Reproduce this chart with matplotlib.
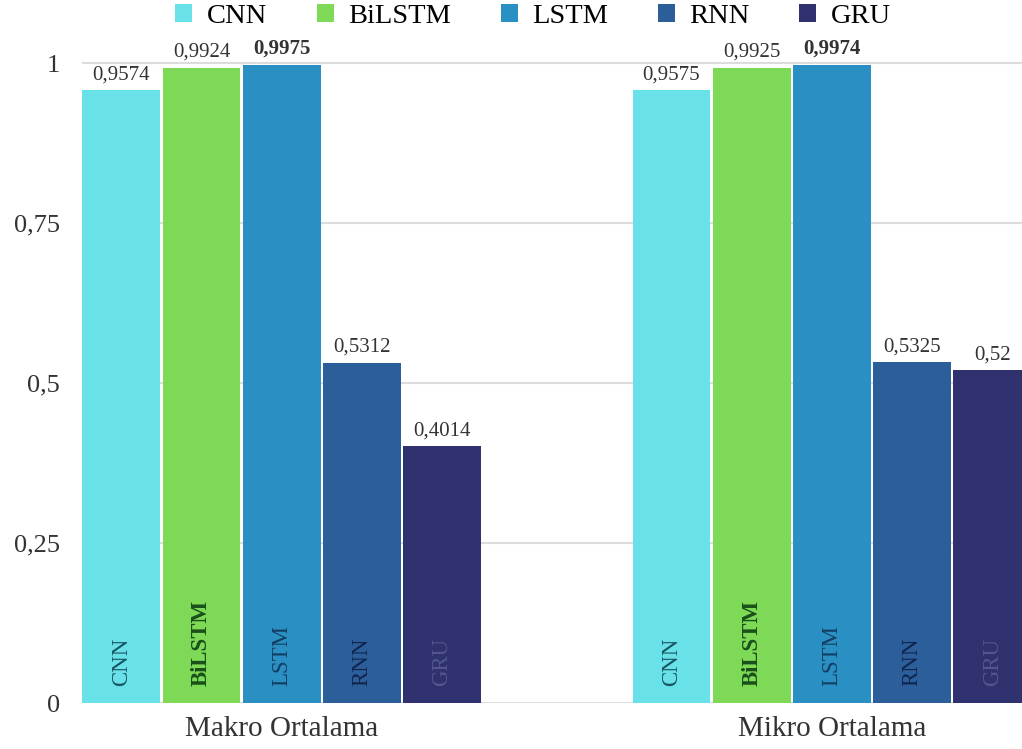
import numpy as np
import matplotlib
matplotlib.use("Agg")
import matplotlib.pyplot as plt
from matplotlib.patches import Patch

plt.rcParams['font.family'] = ['Liberation Serif', 'DejaVu Serif']

# data
groups = ["Makro Ortalama", "Mikro Ortalama"]
models = ["CNN", "BiLSTM", "LSTM", "RNN", "GRU"]
makro = [0.9574, 0.9924, 0.9975, 0.5312, 0.4014]
mikro = [0.9575, 0.9925, 0.9974, 0.5325, 0.52]
yticks = [0, 0.25, 0.5, 0.75, 1]

colors = ["#68E1E8", "#7ED957", "#2A8FC2", "#2C5E9A", "#2F326E"]
inner_colors = ["#175461", "#1A4F1A", "#123E62", "#10254E", "#53578E"]
best = "LSTM"

fig = plt.figure(figsize=(10.22, 7.49), dpi=100)
ax = fig.add_axes([82 / 1022, 46 / 749, 940 / 1022, 697.6 / 749])

group_gap = 6.86  # distance between first bars of the two groups, in bar units
width = 0.97

for g, vals in enumerate([makro, mikro]):
    xs = np.arange(len(models)) + g * group_gap
    ax.bar(xs, vals, width=width, color=colors, zorder=2, linewidth=0)
    for i, (x, v) in enumerate(zip(xs, vals)):
        ax.annotate(f"{v:g}".replace(".", ","), (x, v), xytext=(0, 6),
                    textcoords="offset pixels",
                    ha="center", va="bottom", fontsize=15, color="#333333",
                    fontweight="bold" if models[i] == best else "normal",
                    annotation_clip=False)
        ax.text(x, 0.027, models[i], rotation=90, ha="center", va="bottom",
                fontsize=16.5, color=inner_colors[i],
                fontweight="bold" if models[i] == "BiLSTM" else "normal",
                zorder=3, clip_on=True)

ax.set_xlim(-0.49, 11.23)
ax.set_ylim(0, 1.09)
ax.set_yticks(yticks)
ax.set_yticklabels([f"{t:g}".replace(".", ",") for t in yticks], fontsize=19,
                   color="#333333")
ax.set_xticks([2, 2 + group_gap])
ax.set_xticklabels(groups, fontsize=21, color="#333333")
ax.tick_params(axis="both", length=0)
ax.tick_params(axis="y", pad=16)
ax.tick_params(axis="x", pad=9)
ax.yaxis.grid(True, color="#dcdcdc", linewidth=1.5, zorder=0)
ax.set_axisbelow(True)
for s in ax.spines.values():
    s.set_visible(False)

handles = [Patch(facecolor=c, edgecolor="none") for c in colors]
fig.legend(handles, models, loc="upper center", bbox_to_anchor=(533 / 1022, 0.998),
           ncol=5, frameon=False, fontsize=20.5, handlelength=0.6, handleheight=0.6,
           handletextpad=0.5, columnspacing=1.75, borderaxespad=0.0,
           borderpad=0.1)

fig.savefig("out.png", dpi=100)
